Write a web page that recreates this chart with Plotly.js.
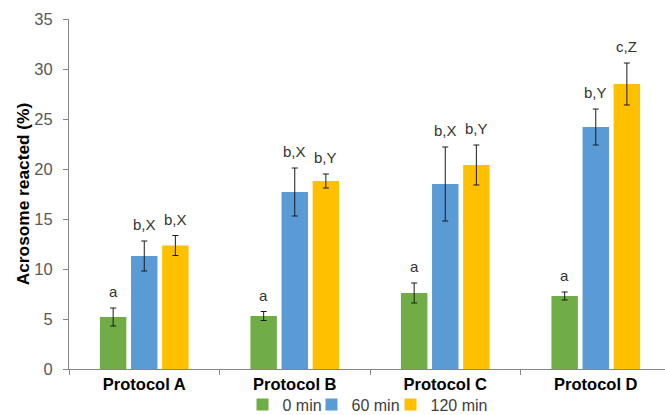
<!DOCTYPE html>
<html>
<head>
<meta charset="utf-8">
<script src="https://cdn.plot.ly/plotly-3.0.1.min.js"></script>
<style>html,body{margin:0;padding:0;background:#fff;}#chart{width:665px;height:415px;}</style>
</head>
<body>
<div id="chart"></div>
<script>
const categories = ["Protocol A", "Protocol B", "Protocol C", "Protocol D"];
const seriesNames = ["0 min", "60 min", "120 min"];
const vals0 = [5.2, 5.3, 7.6, 7.3];
const err0 = [0.9, 0.45, 1.0, 0.4];
const vals60 = [11.3, 17.7, 18.5, 24.2];
const err60 = [1.5, 2.4, 3.7, 1.8];
const vals120 = [12.35, 18.8, 20.4, 28.5];
const err120 = [1.0, 0.7, 2.0, 2.1];
const labels0 = ["a", "a", "a", "a"];
const labels60 = ["b,X", "b,X", "b,X", "b,Y"];
const labels120 = ["b,X", "b,Y", "b,Y", "c,Z"];
const colors = ["#70AD47", "#5B9BD5", "#FFC000"];
const legendWidths = [24, 34, 56];

const vals = [vals0, vals60, vals120];
const errs = [err0, err60, err120];
const labs = [labels0, labels60, labels120];

const bargap = 0.38;
const FONT = "Arial, 'Liberation Sans', sans-serif";

const traces = vals.map((v, s) => ({
  type: "bar",
  name: seriesNames[s],
  x: categories,
  y: v,
  legendwidth: legendWidths[s],
  marker: {color: colors[s], line: {width: 0}},
  error_y: {type: "data", array: errs[s], visible: true, color: "#1a1a1a", thickness: 1, width: 3},
  hoverinfo: "skip"
}));

const slot = (1 - bargap) / 3;
const annotations = [];
vals.forEach((v, s) => {
  v.forEach((val, i) => {
    annotations.push({
      x: i + (s - 1) * slot,
      y: val + errs[s][i],
      xref: "x", yref: "y",
      text: labs[s][i],
      showarrow: false,
      yanchor: "bottom",
      yshift: 6,
      font: {family: FONT, size: 15, color: "#333333"}
    });
  });
});

const layout = {
  width: 665, height: 415,
  margin: {l: 69, r: 0, t: 19, b: 46, pad: 0, autoexpand: false},
  paper_bgcolor: "#fff", plot_bgcolor: "#fff",
  font: {family: FONT, color: "#595959"},
  barmode: "group",
  bargap: bargap,
  bargroupgap: 0.15,
  showlegend: true,
  legend: {orientation: "h", x: 0.5, xanchor: "center", y: -0.102, yanchor: "middle",
           bgcolor: "rgba(0,0,0,0)",
           font: {family: FONT, size: 16, color: "#404040"}, itemwidth: 30, tracegroupgap: 0},
  xaxis: {
    type: "category", range: [-0.5, 3.46], automargin: false,
    showline: true, linecolor: "#868686", linewidth: 1,
    ticks: "outside", tickson: "boundaries", ticklen: 5, tickcolor: "#868686",
    showgrid: false, zeroline: false,
    tickfont: {family: FONT, size: 16.5, color: "#000", weight: "bold"}
  },
  yaxis: {
    range: [0, 35], dtick: 5, tick0: 0, automargin: false,
    showline: true, linecolor: "#868686", linewidth: 1,
    ticks: "outside", ticklen: 5, tickcolor: "#868686",
    showgrid: false, zeroline: false,
    ticklabelstandoff: 7,
    tickfont: {family: FONT, size: 16.5, color: "#595959"},
    title: {text: "Acrosome reacted (%)", font: {family: FONT, size: 17.3, color: "#000", weight: "bold"}, standoff: 0}
  },
  annotations: annotations
};

Plotly.newPlot("chart", traces, layout, {displayModeBar: false, staticPlot: true});
</script>
</body>
</html>
